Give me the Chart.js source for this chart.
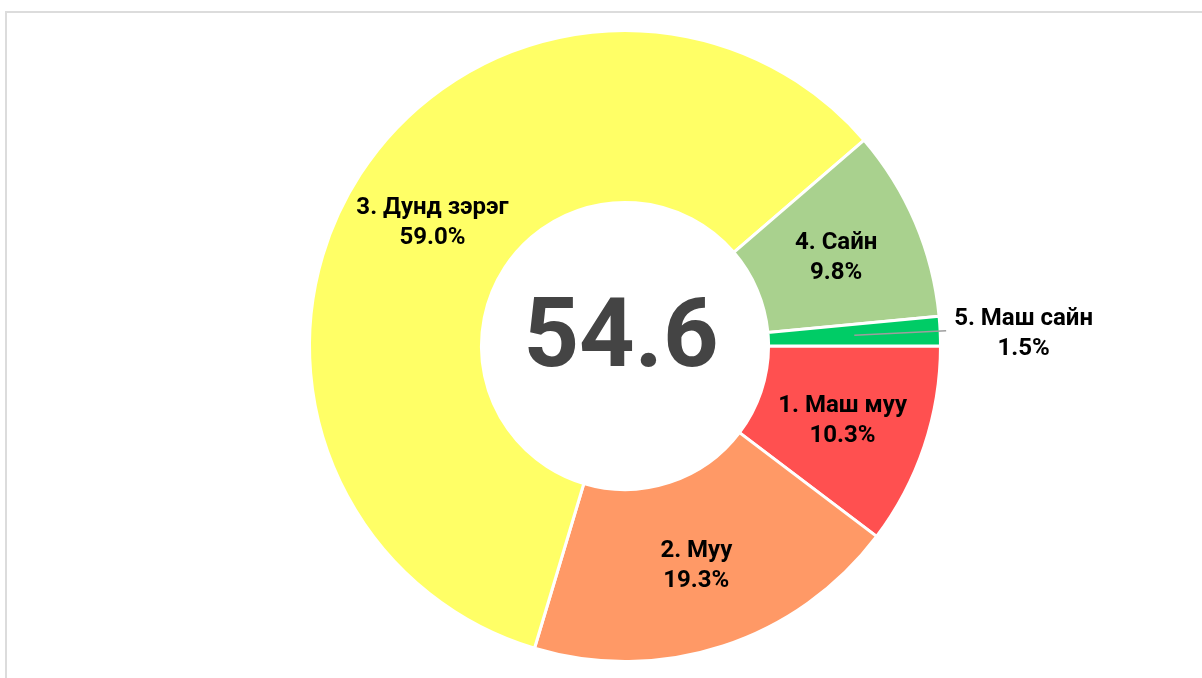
<!DOCTYPE html>
<html>
<head>
<meta charset="utf-8">
<script src="https://cdn.jsdelivr.net/npm/chart.js@4"></script>
<style>
  html, body { margin: 0; padding: 0; background: #fff; }
  body { width: 1202px; height: 678px; position: relative; overflow: hidden; }
  .frame {
    position: absolute; left: 5px; top: 11px; right: 0; bottom: 0;
    border-top: 2px solid #dcdcdc; border-left: 2px solid #dcdcdc;
  }
  .wrap { position: absolute; left: 0; top: 0; width: 1202px; height: 678px; }
</style>
</head>
<body>
<div class="frame"></div>
<div class="wrap"><canvas id="donut"></canvas></div>
<script>
const categories = ['1. Маш муу', '2. Муу', '3. Дунд зэрэг', '4. Сайн', '5. Маш сайн'];
const shares = [10.3, 19.3, 59.0, 9.8, 1.5];
const sliceColors = ['#ff5050', '#ff9966', '#ffff66', '#a9d18e', '#00cc66'];
const centerValue = '54.6';

const FONT = 'Roboto, "Noto Sans", sans-serif';

// labels inside the slices, small ones outside with a leader line
const sliceLabels = {
  id: 'sliceLabels',
  afterDraw(chart) {
    const ctx = chart.ctx;
    const meta = chart.getDatasetMeta(0);
    ctx.save();
    ctx.font = 'bold 24px ' + FONT;
    ctx.fillStyle = '#000';
    ctx.textBaseline = 'middle';
    meta.data.forEach((arc, i) => {
      const p = arc.getProps(['x', 'y', 'startAngle', 'endAngle', 'innerRadius', 'outerRadius'], true);
      const mid = (p.startAngle + p.endAngle) / 2;
      const lines = [categories[i], shares[i].toFixed(1) + '%'];
      if (shares[i] < 3) {
        const r1 = (p.innerRadius + p.outerRadius) / 2;
        const r2 = p.outerRadius + 6;
        const x1 = p.x + Math.cos(mid) * r1, y1 = p.y + Math.sin(mid) * r1;
        const x2 = p.x + Math.cos(mid) * r2, y2 = p.y + Math.sin(mid) * r2;
        ctx.strokeStyle = '#9e9e9e';
        ctx.lineWidth = 1.5;
        ctx.beginPath();
        ctx.moveTo(x1, y1);
        ctx.lineTo(x2, y2);
        ctx.stroke();
        const w = Math.max(...lines.map(t => ctx.measureText(t).width));
        const cx = x2 + 8 + w / 2;
        ctx.textAlign = 'center';
        ctx.fillText(lines[0], cx, y2 - 12);
        ctx.fillText(lines[1], cx, y2 + 18);
      } else {
        const r = (p.innerRadius + p.outerRadius) / 2;
        const cx = p.x + Math.cos(mid) * r, cy = p.y + Math.sin(mid) * r;
        ctx.textAlign = 'center';
        ctx.fillText(lines[0], cx, cy - 13);
        ctx.fillText(lines[1], cx, cy + 17);
      }
    });
    // big number in the hole
    const a = meta.data[0];
    ctx.font = 'bold 97px ' + FONT;
    ctx.fillStyle = '#444444';
    ctx.textAlign = 'center';
    ctx.textBaseline = 'middle';
    ctx.fillText(centerValue, a.x - 4, a.y - 4);
    ctx.restore();
  }
};

new Chart(document.getElementById('donut'), {
  type: 'doughnut',
  data: {
    labels: categories,
    datasets: [{
      data: shares,
      backgroundColor: sliceColors,
      borderColor: '#ffffff',
      borderWidth: 3,
      hoverOffset: 0
    }]
  },
  options: {
    responsive: true,
    maintainAspectRatio: false,
    animation: false,
    rotation: 90,
    cutout: '45.5%',
    layout: { padding: { left: 308, right: 260, top: 29, bottom: 15 } },
    plugins: {
      legend: { display: false },
      tooltip: { enabled: false }
    }
  },
  plugins: [sliceLabels]
});
</script>
</body>
</html>
